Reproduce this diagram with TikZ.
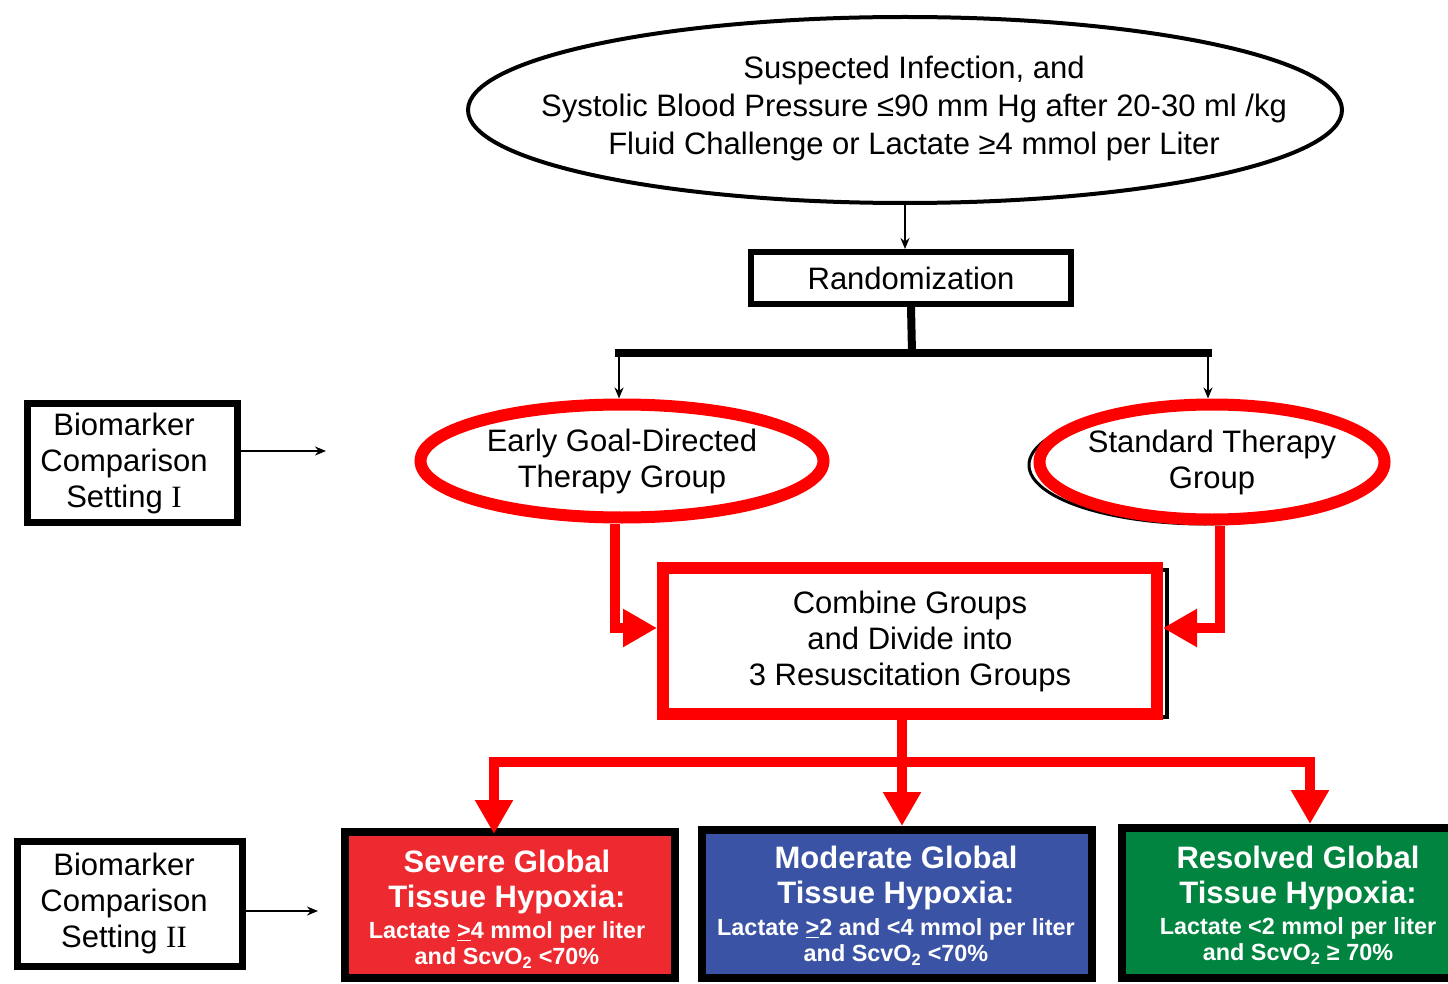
\documentclass[tikz,border=0pt]{standalone}
\usepackage{fontspec}
\setmainfont{Liberation Sans}
\newfontfamily\romanfam{Liberation Serif}
\usetikzlibrary{shapes.geometric,arrows.meta}
\definecolor{lred}{HTML}{FF0000}
\definecolor{sevred}{HTML}{EC2A30}
\definecolor{modblue}{HTML}{3A53A4}
\definecolor{resgreen}{HTML}{00843F}
\begin{document}
\begin{tikzpicture}[x=1pt,y=-1pt,
  main/.style={font=\fontsize{31}{36}\selectfont, align=center, inner sep=0pt},
  thinarrow/.style={line width=2pt, -{Stealth[length=11pt,width=9pt]}},
  redline/.style={draw=lred, line width=10pt},
  redarrow/.style={redline, -{Triangle[length=34pt,width=36pt]}},
  redoval/.style={draw=lred, line width=12pt, ellipse, fill=white, main, inner xsep=-60pt},
  resbox/.style={draw=black, line width=8pt, inner sep=0pt},
  boxtitle/.style={text=white, align=center, inner sep=0pt, font=\fontsize{31}{35}\selectfont\bfseries},
  boxdet/.style={text=white, align=center, inner sep=0pt, font=\fontsize{23.4}{26}\selectfont\bfseries}
]
\useasboundingbox[fill=white] (0,0) rectangle (1448,984);

% top ellipse
\node[draw, ellipse, line width=4pt, minimum width=874, minimum height=186, inner sep=0pt,
      label={[main, font=\fontsize{31}{38}\selectfont, xshift=9pt, yshift=2pt]center:Suspected Infection, and\\Systolic Blood Pressure ≤90 mm Hg after 20-30 ml /kg\\Fluid Challenge or Lactate ≥4 mmol per Liter}] (top) at (905,110) {};

% randomization
\node[draw, line width=6pt, minimum width=320, minimum height=52, main] (rand) at (911,278) {Randomization};
\draw[thinarrow] (top.south) -- (top.south |- rand.north);

% split
\coordinate (jn) at (912,353);
\coordinate (jl) at (619,353);
\coordinate (jr) at (1208,353);
\draw[line width=8pt] (rand.south) -- (jn);
\draw[line width=8pt] ([xshift=-4pt]jl) -- ([xshift=4pt]jr);

% group ellipses
\node[draw, ellipse, line width=3pt, minimum width=352, minimum height=118] (stdshadow) at (1205,465) {};
\node[redoval, minimum width=403, minimum height=113] (egdt) at (622,461) {Early Goal-Directed\\Therapy Group};
\node[redoval, minimum width=345, minimum height=115] (std) at (1212,462) {Standard Therapy\\Group};
\draw[thinarrow] (jl) -- (jl |- egdt.north);
\draw[thinarrow] (jr) -- (jr |- std.north);

% combine box
\draw[line width=4pt] (668,570) rectangle (1167,717);
\node[draw=lred, line width=12pt, fill=white, minimum width=494, minimum height=146, main] (comb) at (910,641)
  {Combine Groups\\and Divide into\\3 Resuscitation Groups};
\draw[redarrow] ([xshift=-7pt]egdt.south) |- ([yshift=13pt]comb.west);
\draw[redarrow] ([xshift=8pt]std.south) |- ([yshift=13pt]comb.east);

% bottom boxes
\node[resbox, fill=sevred, minimum width=330, minimum height=146] (sev) at (510,905) {};
\node[resbox, fill=modblue, minimum width=390, minimum height=148] (mod) at (897,904) {};
\node[resbox, fill=resgreen, minimum width=334, minimum height=150] (res) at (1289,903) {};

\node[boxtitle] (sevt) at (507,882) {Severe Global\\Tissue Hypoxia:};
\node[boxdet] (sevd) at (507,945) {Lactate \underline{>}4 mmol per liter\\and ScvO\textsubscript{2} <70\%};
\node[boxtitle] (modt) at (896,878) {Moderate Global\\Tissue Hypoxia:};
\node[boxdet] (modd) at (896,942) {Lactate \underline{>}2 and <4 mmol per liter\\and ScvO\textsubscript{2} <70\%};
\node[boxtitle] (rest) at (1298,878) {Resolved Global\\Tissue Hypoxia:};
\node[boxdet] (resd) at (1298,941) {Lactate <2 mmol per liter\\and ScvO\textsubscript{2} ≥ 70\%};

% distribution
\coordinate (hm) at (902,762);
\coordinate (hl) at (494,762);
\coordinate (hr) at (1310,762);
\draw[redline] ([xshift=-8pt]comb.south) -- ([xshift=-8pt]comb.south |- hm);
\draw[redline] ([xshift=-5pt]hl) -- ([xshift=5pt]hr);
\draw[redarrow] (hm) -- (hm |- mod.north);
\draw[redarrow] (hl) -- ([yshift=-6pt]hl |- sev.north);
\draw[redarrow] (hr) -- (hr |- res.north);

% biomarker boxes
\node[draw, line width=7pt, minimum width=210, minimum height=119, inner sep=0pt,
      label={[main, xshift=-8pt, yshift=0pt]center:Biomarker\\Comparison\\Setting {\romanfam I}}] (bm1) at (132,463) {};
\node[draw, line width=7pt, minimum width=225, minimum height=125, inner sep=0pt,
      label={[main, xshift=-6pt, yshift=1pt]center:Biomarker\\Comparison\\Setting {\romanfam II}}] (bm2) at (130,904) {};
\coordinate (a1) at (326,451);
\coordinate (a2) at (318,911);
\draw[thinarrow] (bm1.east |- a1) -- (a1);
\draw[thinarrow] (bm2.east |- a2) -- (a2);
\end{tikzpicture}
\end{document}
